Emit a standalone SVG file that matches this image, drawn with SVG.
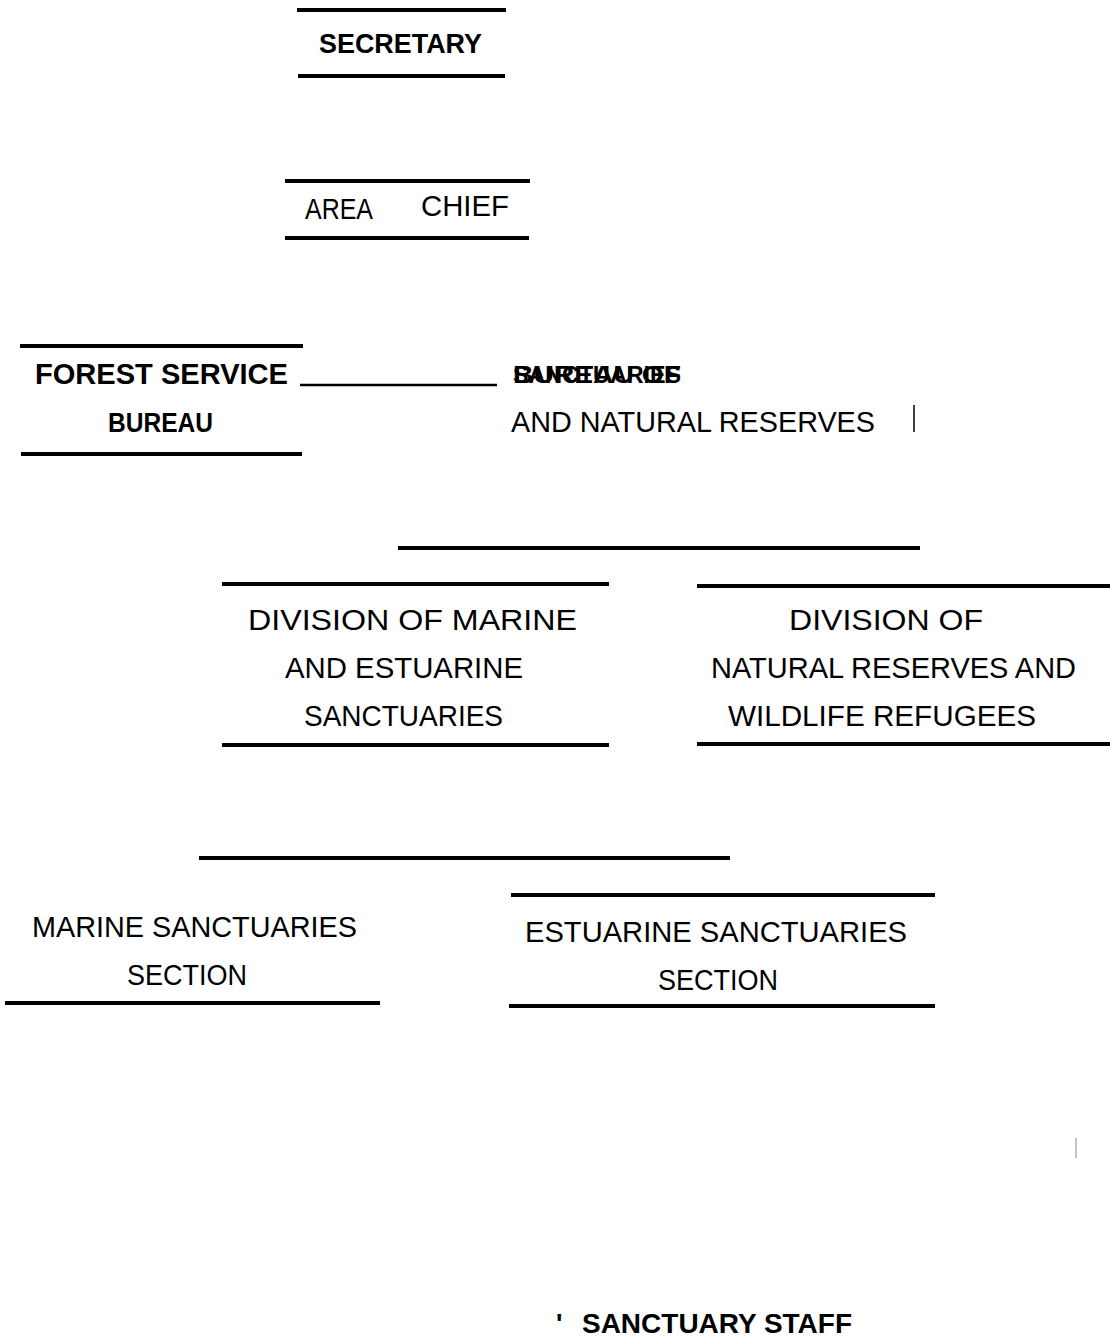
<svg xmlns="http://www.w3.org/2000/svg" width="1110" height="1341" viewBox="0 0 1110 1341">
<style>
.bar{stroke:#000;stroke-width:4;fill:none}
.thin{stroke:#000;stroke-width:2.5;fill:none}
.b{font-family:"Liberation Sans",Arial,sans-serif;font-weight:bold;fill:#000}
.r{font-family:"Liberation Sans",Arial,sans-serif;fill:#000}
</style>
<rect width="1110" height="1341" fill="#fff"/>
<g id="connectors">
<line class="thin" x1="300" y1="385" x2="497" y2="385"/>
<line x1="914" y1="405" x2="914" y2="432" stroke="#000" stroke-width="1.5"/>
<line class="bar" x1="398" y1="548" x2="920" y2="548"/>
<line class="bar" x1="199" y1="858" x2="730" y2="858"/>
<line x1="1076" y1="1138" x2="1076" y2="1158" stroke="#999" stroke-width="1.2"/>
</g>
<g id="secretary">
<line class="bar" x1="297" y1="10" x2="506" y2="10"/>
<line class="bar" x1="298" y1="76" x2="505" y2="76"/>
<text class="b" x="319" y="53" font-size="27" textLength="163" lengthAdjust="spacingAndGlyphs">SECRETARY</text>
</g>
<g id="area-chief">
<line class="bar" x1="285" y1="181" x2="530" y2="181"/>
<line class="bar" x1="285" y1="238" x2="529" y2="238"/>
<text class="r" x="305" y="219" font-size="29" textLength="68" lengthAdjust="spacingAndGlyphs">AREA</text>
<text class="r" x="421" y="216" font-size="30" textLength="88" lengthAdjust="spacingAndGlyphs">CHIEF</text>
</g>
<g id="forest-service">
<line class="bar" x1="20" y1="346" x2="303" y2="346"/>
<line class="bar" x1="21" y1="454" x2="302" y2="454"/>
<text class="b" x="35" y="384" font-size="29" textLength="253" lengthAdjust="spacingAndGlyphs">FOREST SERVICE</text>
<text class="b" x="108" y="432" font-size="27" textLength="105" lengthAdjust="spacingAndGlyphs">BUREAU</text>
</g>
<g id="bureau-sanctuaries">
<text class="b" x="513" y="383" font-size="23" textLength="168" lengthAdjust="spacingAndGlyphs">BUREAU OF</text>
<text class="b" x="513" y="383" font-size="23" textLength="168" lengthAdjust="spacingAndGlyphs">SANCTUARIES</text>
<text class="r" x="511" y="432" font-size="29" textLength="364" lengthAdjust="spacingAndGlyphs">AND NATURAL RESERVES</text>
</g>
<g id="div-marine">
<line class="bar" x1="222" y1="584" x2="609" y2="584"/>
<line class="bar" x1="222" y1="745" x2="609" y2="745"/>
<text class="r" x="248" y="630" font-size="30" textLength="329" lengthAdjust="spacingAndGlyphs">DIVISION OF MARINE</text>
<text class="r" x="285" y="678" font-size="30" textLength="238" lengthAdjust="spacingAndGlyphs">AND ESTUARINE</text>
<text class="r" x="304" y="726" font-size="30" textLength="199" lengthAdjust="spacingAndGlyphs">SANCTUARIES</text>
</g>
<g id="div-natural">
<line class="bar" x1="697" y1="586" x2="1110" y2="586"/>
<line class="bar" x1="697" y1="744" x2="1110" y2="744"/>
<text class="r" x="789" y="630" font-size="30" textLength="194" lengthAdjust="spacingAndGlyphs">DIVISION OF</text>
<text class="r" x="711" y="678" font-size="30" textLength="365" lengthAdjust="spacingAndGlyphs">NATURAL RESERVES AND</text>
<text class="r" x="728" y="726" font-size="30" textLength="308" lengthAdjust="spacingAndGlyphs">WILDLIFE REFUGEES</text>
</g>
<g id="marine-section">
<line class="bar" x1="5" y1="1003" x2="380" y2="1003"/>
<text class="r" x="32" y="937" font-size="29" textLength="325" lengthAdjust="spacingAndGlyphs">MARINE SANCTUARIES</text>
<text class="r" x="127" y="985" font-size="29" textLength="120" lengthAdjust="spacingAndGlyphs">SECTION</text>
</g>
<g id="estuarine-section">
<line class="bar" x1="511" y1="895" x2="935" y2="895"/>
<line class="bar" x1="509" y1="1006" x2="935" y2="1006"/>
<text class="r" x="525" y="942" font-size="29" textLength="382" lengthAdjust="spacingAndGlyphs">ESTUARINE SANCTUARIES</text>
<text class="r" x="658" y="990" font-size="29" textLength="120" lengthAdjust="spacingAndGlyphs">SECTION</text>
</g>
<g id="sanctuary-staff">
<text class="b" x="556" y="1333" font-size="27">'</text>
<text class="b" x="582" y="1333" font-size="28" textLength="270" lengthAdjust="spacingAndGlyphs">SANCTUARY STAFF</text>
</g>
</svg>
